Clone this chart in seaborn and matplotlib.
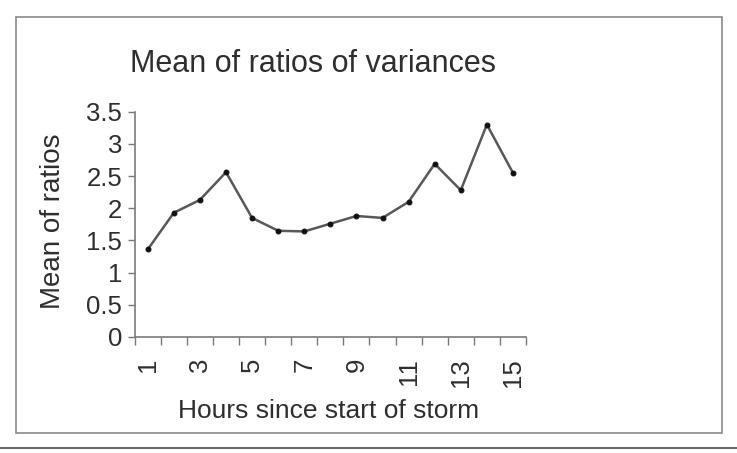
import numpy as np
import pandas as pd
import matplotlib.pyplot as plt
from matplotlib.patches import Rectangle
import seaborn as sns

# Values
hours = [1, 2, 3, 4, 5, 6, 7, 8, 9, 10, 11, 12, 13, 14, 15]
mean_ratio = [1.36, 1.93, 2.13, 2.56, 1.85, 1.65, 1.64, 1.76, 1.88, 1.85,
              2.10, 2.69, 2.28, 3.30, 2.55]
tick_hours = [1, 3, 5, 7, 9, 11, 13, 15]
y_ticks = [0, 0.5, 1, 1.5, 2, 2.5, 3, 3.5]
y_tick_labels = ["0", "0.5", "1", "1.5", "2", "2.5", "3", "3.5"]

df = pd.DataFrame({"hour": hours, "ratio": mean_ratio})

sns.set_style("ticks")
plt.rcParams['font.family'] = ['Liberation Sans', 'DejaVu Sans']

text_col = "#2e2e2e"
axis_col = "#7a7a7a"

fig = plt.figure(figsize=(7.37, 4.53), dpi=100)
W, H = 737, 453
ax = fig.add_axes([134.7 / W, 1 - 337 / H, (526 - 134.7) / W, (337 - 111.7) / H])

sns.lineplot(data=df, x="hour", y="ratio", ax=ax, color="#585858", linewidth=1.8,
             marker="o", markersize=3.5, markerfacecolor="#111111",
             markeredgecolor="#111111")

ax.set_xlim(0.5, 15.5)
ax.set_ylim(0, 3.5)
ax.set_xticks(tick_hours)
ax.set_xticklabels([str(h) for h in tick_hours], rotation=90)
ax.set_xticks(np.arange(0.5, 16, 1), minor=True)
ax.tick_params(axis="x", which="major", length=0, pad=15, labelsize=18.5, labelcolor=text_col)
ax.tick_params(axis="x", which="minor", length=6, width=1.0, color=axis_col)
ax.set_yticks(y_ticks)
ax.set_yticklabels(y_tick_labels)
ax.tick_params(axis="y", length=5, width=1.0, color=axis_col, pad=4,
               labelsize=18.5, labelcolor=text_col)

for s in ["top", "right"]:
    ax.spines[s].set_visible(False)
for s in ["left", "bottom"]:
    ax.spines[s].set_color(axis_col)
    ax.spines[s].set_linewidth(1.2)

ax.set_xlabel("")
ax.set_ylabel("")

fig.text(313 / W, 1 - 64 / H, "Mean of ratios of variances", ha="center", va="center",
         fontsize=22, color=text_col)
fig.text(53 / W, 1 - 221 / H, "Mean of ratios", ha="center", va="center",
         rotation=90, fontsize=20, color=text_col)
fig.text(329 / W, 1 - 411 / H, "Hours since start of storm", ha="center", va="center",
         fontsize=19, color=text_col)

# outer frame of the picture
fig.patches.append(Rectangle((16 / W, 1 - 433 / H), (722 - 16) / W, (433 - 17) / H,
                             transform=fig.transFigure, fill=False,
                             edgecolor="#8a8a8a", linewidth=1.2))
fig.lines.append(plt.Line2D([0, 1], [1 - 448 / H] * 2, transform=fig.transFigure,
                            color="#6a6a6a", linewidth=1.5))

fig.savefig("out.png", dpi=100)
